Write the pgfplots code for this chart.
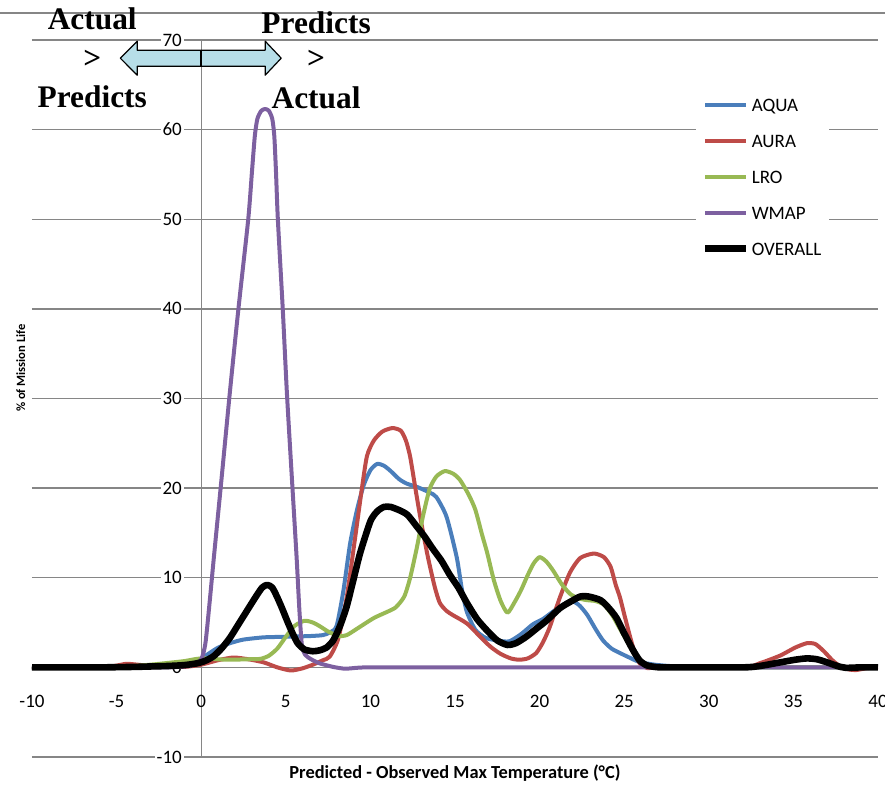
\documentclass[border=0pt]{standalone}
\usepackage{pgfplots}
\pgfplotsset{compat=1.18}
\usepackage{fontspec}
\setmainfont{Carlito}
\newfontfamily\tnr{Liberation Serif}

\definecolor{gridgray}{RGB}{134,134,134}
\definecolor{aqua}{RGB}{74,126,187}
\definecolor{aura}{RGB}{190,75,72}
\definecolor{lro}{RGB}{152,185,84}
\definecolor{wmap}{RGB}{125,96,160}
\definecolor{arrowfill}{RGB}{183,222,232}

\begin{document}
\begin{tikzpicture}[line cap=round, line join=round]
\begin{axis}[
  name=ax, at={(0,0)}, anchor=south west,
  scale only axis, width=423pt, height=358.5pt,
  xmin=-10, xmax=40, ymin=-10, ymax=70,
  axis x line=middle, axis y line=middle,
  axis line style={draw=gridgray, line width=0.65pt, -},
  xtick={-10,-5,...,40},
  ytick={-10,10,20,30,40,50,60,70},
  extra y ticks={0},
  extra y tick style={yticklabel style={fill=none}},
  ymajorgrids, grid style={gridgray, line width=0.65pt},
  major tick length=0pt,
  hide obscured x ticks=false, hide obscured y ticks=false,
  tick label style={font=\fontsize{9.5}{11}\selectfont},
  /pgf/number format/assume math mode=true,
  xticklabel style={anchor=center, yshift=-17pt},
  yticklabel style={anchor=east, xshift=-8.5pt, fill=white, inner sep=1pt},
  clip=false,
  legend style={at={(axis cs:29.23,64.5)}, anchor=north west,
    fill=white, draw=none, inner xsep=3pt, inner ysep=3pt,
    row sep=9pt, font=\fontsize{9.5}{11}\selectfont,
    cells={anchor=west},
    nodes={inner sep=1pt, text height=7pt, text depth=0pt}},
  legend image code/.code={\draw[#1] (0pt,0pt) -- (20.5pt,0pt);},
  every axis plot/.append style={smooth, tension=0.4},
]
% AQUA
\addplot[aqua, line width=2pt] coordinates {
(-10,0) (-6,0) (-4,0.05) (-2,0.15) (-1,0.3) (-0.5,0.5) (0,1.0) (0.5,1.6) (1,2.2)
(1.7,2.7) (2.5,3.1) (3.7,3.35) (4.7,3.4) (5.7,3.45) (6.5,3.5) (7.2,3.6) (7.6,3.9)
(8.0,4.6) (8.4,8.5) (8.8,13.8) (9.2,17.5) (9.6,20.3) (10,22.0) (10.4,22.7) (10.8,22.5)
(11.2,21.9) (11.7,21.0) (12.15,20.5) (12.8,20.1) (13.5,19.5) (13.9,19.0) (14.5,16.8)
(15.1,12.3) (15.4,8.8) (15.7,6.2) (16.2,4.2) (16.8,3.3) (17.5,3.0) (18.2,2.9) (18.9,3.7)
(19.6,4.8) (20.2,5.4) (21.0,6.5) (21.8,7.4) (22.3,7.0) (22.8,5.9) (23.3,4.3) (23.75,3.0)
(24.25,2.1) (24.75,1.6) (25.3,1.1) (25.9,0.6) (26.8,0.3) (27.7,0.15) (29,0.05) (30,0) (35,0) (40,0)};
\addlegendentry{AQUA}
% AURA
\addplot[aura, line width=2pt] coordinates {
(-10,0) (-6,0) (-5,0.2) (-4.4,0.4) (-3.5,0.25) (-2.5,0.1) (-1,0.05) (0,0.3) (1,0.8)
(1.9,1.1) (2.8,0.9) (3.7,0.55) (4.5,0.0) (5.3,-0.35) (6,-0.1) (6.6,0.3) (7.2,0.8)
(7.6,1.2) (8.1,3.2) (8.6,7.8) (9.1,14.5) (9.5,20) (9.8,23.6) (10.2,25.3) (10.7,26.3)
(11.3,26.7) (11.8,26.4) (12.1,25.3) (12.35,23.5) (12.7,19.5) (13.0,16.2) (13.4,12.3)
(13.8,9.0) (14.1,7.2) (14.5,6.3) (14.9,5.8) (15.7,4.9) (16.5,3.4) (17.1,2.3) (17.7,1.5)
(18.3,1.0) (18.8,0.85) (19.3,1.0) (19.8,1.6) (20.2,2.8) (20.6,4.5) (21.2,7.8) (21.8,10.6)
(22.4,12.2) (23.2,12.7) (23.8,12.3) (24.2,11.2) (24.5,9.2) (24.75,7.8) (25.1,5.2)
(25.5,2.4) (25.9,0.5) (26.4,-0.1) (27,0) (32,0) (33,0.45) (34.2,1.3) (35.1,2.2)
(35.8,2.7) (36.3,2.6) (36.8,1.8) (37.3,0.8) (37.7,0.2) (38.2,-0.2) (38.7,-0.3) (39.3,-0.1) (40,0)};
\addlegendentry{AURA}
% LRO
\addplot[lro, line width=2pt] coordinates {
(-10,0) (-6,0) (-5,0.05) (-4,0.15) (-3,0.3) (-2.2,0.45) (-1,0.7) (-0.25,0.95) (0.3,1.0)
(1,0.9) (1.7,0.85) (2.7,0.9) (3.5,0.95) (4.0,1.3) (4.5,2.1) (5.0,3.4) (5.5,4.6)
(6.1,5.2) (6.6,5.0) (7.0,4.6) (7.5,4.0) (8.1,3.5) (8.6,3.6) (9.2,4.3) (10.2,5.5)
(11.0,6.2) (11.5,6.7) (12.0,7.9) (12.35,10.0) (12.75,13.4) (13.1,16.8) (13.5,19.9)
(13.9,21.3) (14.4,21.9) (14.9,21.6) (15.3,20.9) (15.8,19.3) (16.2,17.6) (16.6,14.8)
(16.9,12.8) (17.3,9.7) (17.7,7.4) (18.1,6.1) (18.5,7.2) (18.9,8.6) (19.3,10.3)
(19.65,11.6) (20.0,12.3) (20.4,11.8) (20.8,10.8) (21.3,9.3) (21.8,8.2) (22.3,7.7)
(22.8,7.5) (23.3,7.4) (23.8,7.0) (24.3,5.8) (24.75,4.3) (25.3,2.5) (25.75,1.1)
(26.2,0.4) (26.8,0.1) (27.5,0) (30,0) (35,0) (40,0)};
\addlegendentry{LRO}
% WMAP
\addplot[wmap, line width=2pt] coordinates {
(-10,0) (-8,0) (-6,0) (-4,0) (-2,0) (-1,0.1) (-0.5,0.25) (0,0.9) (0.25,2.7) (0.5,7.3)
(0.73,11.9) (1.2,21) (1.7,30.8) (2.2,40) (2.78,50) (3.0,55.3) (3.17,59.3) (3.32,61.2)
(3.55,62.1) (3.78,62.3) (4.0,62.1) (4.2,61.2) (4.32,59.3) (4.42,55.3) (4.53,50)
(4.82,40) (5.06,30.8) (5.3,23) (5.5,16.7) (5.65,11.9)
(5.8,6.5) (5.95,2.5) (6.15,1.4) (6.5,0.9) (7,0.45) (7.8,0.05) (8.5,-0.15) (9.2,-0.05)
(10,0) (15,0) (20,0) (25,0) (30,0) (35,0) (40,0)};
\addlegendentry{WMAP}
% OVERALL
\addplot[black, line width=3.3pt] coordinates {
(-10,0) (-6,0) (-4,0.05) (-3,0.1) (-2,0.15) (-1,0.25) (-0.25,0.45) (0.2,0.7) (0.7,1.2)
(1.2,2.1) (1.7,3.3) (2.2,4.8) (2.7,6.3) (3.2,7.8) (3.6,8.9) (3.9,9.2) (4.2,8.9)
(4.5,7.8) (4.8,6.5) (5.1,5.1) (5.4,3.8) (5.7,2.7) (6.1,2.0) (6.6,1.8) (7.0,1.9)
(7.4,2.2) (7.8,3.0) (8.2,4.6) (8.6,6.8) (9.0,9.8) (9.4,12.8) (10.0,16.3) (10.4,17.4)
(10.8,17.9) (11.2,17.9) (11.75,17.5) (12.2,17.0) (12.75,15.7) (13.2,14.6) (13.7,13.2)
(14.2,11.9) (14.7,10.3) (15.2,8.9) (15.7,7.2) (16.3,5.4) (16.9,4.1) (17.5,3.0) (18.1,2.5)
(18.6,2.7) (19.2,3.4) (19.8,4.3) (20.4,5.2) (21.2,6.6) (21.8,7.3) (22.4,7.9) (22.9,7.9)
(23.6,7.5) (24.1,6.6) (24.55,5.5) (25.0,3.8) (25.5,2.0) (25.9,0.8) (26.3,0.25)
(26.8,0.05) (27.5,0) (32,0) (33,0.15) (34.2,0.55) (35.1,0.85) (35.8,1.0) (36.4,0.9)
(37,0.55) (37.6,0.15) (38.1,-0.05) (39,0) (40,0)};
\addlegendentry{OVERALL}

% frame line along the top edge
\draw[gridgray, line width=0.65pt] (axis cs:-11.87,73) -- (axis cs:40.4,73);

% direction arrow
\draw[black, line width=0.6pt, fill=arrowfill]
  (axis cs:-4.78,67.97) -- (axis cs:-3.78,69.87) -- (axis cs:-3.78,68.86)
  -- (axis cs:3.78,68.86) -- (axis cs:3.78,69.87) -- (axis cs:4.73,67.97)
  -- (axis cs:3.78,66.07) -- (axis cs:3.78,67.08) -- (axis cs:-3.78,67.08)
  -- (axis cs:-3.78,66.07) -- cycle;
\draw[black, line width=0.8pt] (axis cs:0,67.08) -- (axis cs:0,68.86);

% annotations
\begin{scope}[every node/.style={font=\tnr\bfseries\fontsize{15.7}{18}\selectfont, anchor=base, inner sep=0pt}]
\node at (axis cs:-6.44,71.2) {Actual};
\node at (axis cs:-6.44,66.85) {>};
\node at (axis cs:-6.44,62.5) {Predicts};
\node at (axis cs:6.79,70.76) {Predicts};
\node at (axis cs:6.79,66.85) {>};
\node at (axis cs:6.79,62.4) {Actual};
\end{scope}

% axis titles
\node[font=\bfseries\fontsize{9.2}{11}\selectfont, anchor=base] at (axis cs:15.0,-12.39)
  {Predicted - Observed Max Temperature (°C)};
\node[font=\bfseries\fontsize{6.3}{7}\selectfont, anchor=base, rotate=90] at (axis cs:-10.4,33.4)
  {\% of Mission Life};
\end{axis}
\pgfresetboundingbox
\path[use as bounding box] (-16pt,-14pt) rectangle (426.5pt,378.5pt);
\end{tikzpicture}
\end{document}
